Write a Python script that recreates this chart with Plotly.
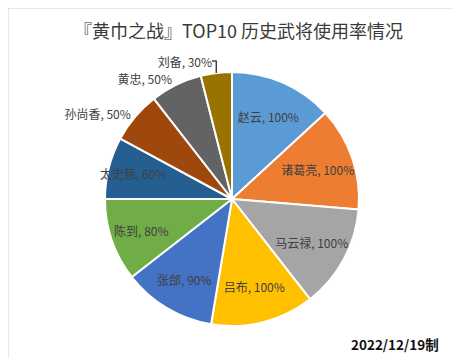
import plotly.graph_objects as go

names = ["赵云", "诸葛亮", "马云禄", "吕布", "张郃", "陈到", "太史慈", "孙尚香", "黄忠", "刘备"]
values = [100, 100, 100, 100, 90, 80, 60, 50, 50, 30]
colors = ["#5B9BD5", "#ED7D31", "#A5A5A5", "#FFC000", "#4472C4", "#70AD47",
          "#255E91", "#9E480E", "#636363", "#997300"]
positions = ["inside"] * 7 + ["outside"] * 3

W, H = 461, 358
cx, cy, r = 224, 191, 127

fig = go.Figure(go.Pie(
    labels=names, values=values, sort=False, direction="clockwise", rotation=0,
    marker=dict(colors=colors, line=dict(color="white", width=2)),
    texttemplate="%{label}, %{value}%", textposition=positions,
    insidetextorientation="horizontal",
    textfont=dict(family="Noto Sans CJK SC", size=12, color="#404040"),
    outsidetextfont=dict(family="Noto Sans CJK SC", size=12, color="#404040"),
    hoverinfo="label+value", showlegend=False,
    domain=dict(x=[(cx - r) / W, (cx + r) / W], y=[(H - cy - r) / H, (H - cy + r) / H]),
))

fig.update_layout(
    width=W, height=H, margin=dict(l=0, r=0, t=0, b=0),
    paper_bgcolor="white", plot_bgcolor="white",
    font=dict(family="Noto Sans CJK SC"),
    uniformtext=dict(minsize=12, mode="show"),
    annotations=[
        dict(text="『黄巾之战』TOP10 历史武将使用率情况", x=0.5, y=(H - 22) / H, xref="paper", yref="paper",
             showarrow=False, font=dict(size=18, color="#3A3A3A", family="Noto Sans CJK SC"),
             xanchor="center", yanchor="middle"),
        dict(text="<b>2022/12/19制</b>", x=433 / W, y=(H - 336) / H, xref="paper", yref="paper",
             showarrow=False, font=dict(size=13.5, color="#111111", family="Noto Sans CJK SC"),
             xanchor="right", yanchor="middle"),
    ],
    shapes=[dict(type="rect", xref="paper", yref="paper", x0=0, y0=0, x1=1, y1=1,
                 line=dict(color="#D0D0D0", width=1))],
)

fig.write_html("out.html")
